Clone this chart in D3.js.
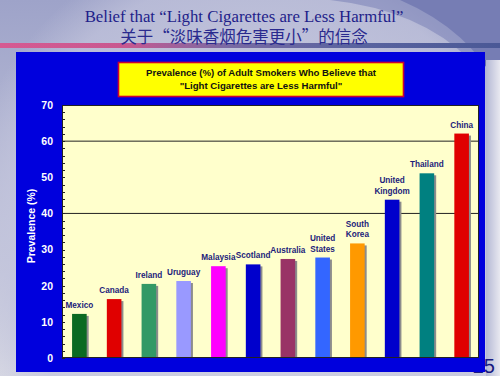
<!DOCTYPE html>
<html>
<head>
<meta charset="utf-8">
<script src="https://cdn.jsdelivr.net/npm/d3@7"></script>
<style>
html,body{margin:0;padding:0;background:#fff;}
svg{display:block;}
</style>
</head>
<body>
<script>
// ---- data ----
const countries = ["Mexico","Canada","Ireland","Uruguay","Malaysia","Scotland","Australia","United States","South Korea","United Kingdom","Thailand","China"];
const labelLines = [["Mexico"],["Canada"],["Ireland"],["Uruguay"],["Malaysia"],["Scotland"],["Australia"],["United","States"],["South","Korea"],["United","Kingdom"],["Thailand"],["China"]];
const prevalence = [12.2, 16.3, 20.5, 21.3, 25.4, 25.9, 27.4, 27.8, 31.7, 43.8, 51.1, 62.1];
const barColors = ["#0b6a22","#e00000","#339966","#9999ff","#ff00ff","#0000cc","#993366","#3366ff","#ff9900","#0000cc","#008080","#e00000"];
const yTicks = [0,10,20,30,40,50,60,70];
const gridValues = [40,60];
const titleEn = "Belief that \u201cLight Cigarettes are Less Harmful\u201d";
const titleZh = "关于\u201c淡味香烟危害更小\u201d的信念";
const boxLines = ["Prevalence (%) of Adult Smokers Who Believe that", "\"Light Cigarettes are Less Harmful\""];
const yTitle = "Prevalence (%)";
const pageNo = "25";

const W = 500, H = 376;
const svg = d3.select("body").append("svg").attr("width", W).attr("height", H);
const defs = svg.append("defs");

// background
const bg = defs.append("linearGradient").attr("id","bg").attr("x1",0).attr("y1",0).attr("x2",0).attr("y2",1);
bg.append("stop").attr("offset","0").attr("stop-color","#9ea3c9");
bg.append("stop").attr("offset","1").attr("stop-color","#d6d7e3");
svg.append("rect").attr("width",W).attr("height",H).attr("fill","url(#bg)");
const rg = defs.append("radialGradient").attr("id","glow").attr("cx","0.5").attr("cy","0.5").attr("r","0.5");
rg.append("stop").attr("offset","0").attr("stop-color","#d4d5e6").attr("stop-opacity",0.9);
rg.append("stop").attr("offset","0.85").attr("stop-color","#c2c4dc").attr("stop-opacity",0.7);
rg.append("stop").attr("offset","1").attr("stop-color","#c2c4dc").attr("stop-opacity",0);
svg.append("circle").attr("cx",260).attr("cy",230).attr("r",300).attr("fill","url(#glow)");
// darker upper-right sweep
svg.append("path").attr("d","M400,0 Q470,30 500,90 L500,0 Z").attr("fill","#6a72ad");
svg.append("path").attr("d","M330,0 Q420,10 470,60 L500,60 L500,0 Z").attr("fill","#7f86b9").attr("opacity",0.6);
// right edge light strip
const rs = defs.append("linearGradient").attr("id","rs").attr("x1",0).attr("y1",0).attr("x2",1).attr("y2",0);
rs.append("stop").attr("offset","0").attr("stop-color","#b4b8d4");
rs.append("stop").attr("offset","1").attr("stop-color","#e8e8f0");
svg.append("rect").attr("x",486).attr("y",60).attr("width",14).attr("height",316).attr("fill","url(#rs)");

// stripe
const st = defs.append("linearGradient").attr("id","stripe").attr("x1",0).attr("y1",0).attr("x2",1).attr("y2",0);
st.append("stop").attr("offset","0").attr("stop-color","#d65a92");
st.append("stop").attr("offset","0.25").attr("stop-color","#c85890");
st.append("stop").attr("offset","0.45").attr("stop-color","#7a6aa4");
st.append("stop").attr("offset","0.7").attr("stop-color","#5a64a0");
st.append("stop").attr("offset","1").attr("stop-color","#4a5896");
svg.append("rect").attr("x",0).attr("y",43).attr("width",W).attr("height",5).attr("fill","url(#stripe)");

// titles
svg.append("text").attr("x",244).attr("y",22).attr("text-anchor","middle")
  .attr("font-family","'Liberation Serif','Times New Roman',serif").attr("font-size",16.8)
  .attr("fill","#1f1f8a").text(titleEn);
svg.append("text").attr("x",244).attr("y",43).attr("text-anchor","middle")
  .attr("font-family","'Noto Sans CJK SC',sans-serif").attr("font-size",16.5)
  .attr("fill","#2a2a8e").text(titleZh);

// page number (partly hidden by the panel)
svg.append("text").attr("x",495).attr("y",373).attr("text-anchor","end")
  .attr("font-family","'Liberation Sans',Arial,sans-serif").attr("font-size",20)
  .attr("fill","#1a1a80").text(pageNo);

// blue panel
svg.append("rect").attr("x",16).attr("y",52).attr("width",469).attr("height",320).attr("fill","#0000dd");

// title box
svg.append("rect").attr("x",118.5).attr("y",62.5).attr("width",285).attr("height",34)
  .attr("fill","#ffff00").attr("stroke","#cc0033").attr("stroke-width",1.6);
svg.append("g").selectAll("text").data(boxLines).join("text")
  .attr("x",261).attr("y",(d,i)=>76+i*12.5).attr("text-anchor","middle")
  .attr("font-family","'Liberation Sans',Arial,sans-serif").attr("font-size",9.6).attr("font-weight","bold")
  .attr("fill","#111").text(d=>d);

// plot
const pl = 62, pr = 479, pt = 105, pb = 358;
const x = d3.scaleBand().domain(countries).range([pl,pr]).paddingInner(0.58).paddingOuter(0.29);
const y = d3.scaleLinear().domain([0,70]).range([pb,pt]);

svg.append("rect").attr("x",pl).attr("y",pt).attr("width",pr-pl).attr("height",pb-pt).attr("fill","#ffffcc");

// grid lines
svg.append("g").selectAll("line").data(gridValues).join("line")
  .attr("x1",pl).attr("x2",pr).attr("y1",d=>y(d)).attr("y2",d=>y(d))
  .attr("stroke","#222").attr("stroke-width",1);

// minor ticks inside
const minor = d3.range(0,71,2);
svg.append("g").selectAll("line").data(minor).join("line")
  .attr("x1",pl).attr("x2",pl+3).attr("y1",d=>Math.round(y(d))+0.5).attr("y2",d=>Math.round(y(d))+0.5)
  .attr("stroke","#222").attr("stroke-width",1);

// bars with shadows
const bars = svg.append("g");
bars.selectAll("rect.sh").data(countries).join("rect").attr("class","sh")
  .attr("x",d=>x(d)+2).attr("y",(d,i)=>y(prevalence[i])+2)
  .attr("width",x.bandwidth()).attr("height",(d,i)=>pb-y(prevalence[i])-2)
  .attr("fill","#8c8c8c");
bars.selectAll("rect.b").data(countries).join("rect").attr("class","b")
  .attr("x",d=>x(d)).attr("y",(d,i)=>y(prevalence[i]))
  .attr("width",x.bandwidth()).attr("height",(d,i)=>pb-y(prevalence[i]))
  .attr("fill",(d,i)=>barColors[i]);

// plot border
svg.append("rect").attr("x",pl+0.5).attr("y",pt+0.5).attr("width",pr-pl-1).attr("height",pb-pt-1)
  .attr("fill","none").attr("stroke","#222").attr("stroke-width",1);

// bar labels
const lab = svg.append("g").attr("font-family","'Liberation Sans',Arial,sans-serif")
  .attr("font-size",8.2).attr("font-weight","bold").attr("fill","#1c1c7a").attr("text-anchor","middle");
countries.forEach((c,i)=>{
  const lines = labelLines[i];
  const cx = x(c)+x.bandwidth()/2;
  const base = y(prevalence[i]) - 6;
  lines.forEach((ln,j)=>{
    lab.append("text").attr("x",cx).attr("y",base-(lines.length-1-j)*10.5).text(ln);
  });
});

// y axis labels
const yAxis = d3.axisLeft(y).tickValues(yTicks).tickSize(0).tickPadding(9);
const ya = svg.append("g").attr("transform",`translate(${pl},0)`).call(yAxis);
ya.select(".domain").remove();
ya.selectAll("text").attr("fill","#ffffff").attr("font-size",10.5).attr("font-weight","bold")
  .attr("font-family","'Liberation Sans',Arial,sans-serif");

// y axis title
svg.append("text").attr("transform","translate(35,226) rotate(-90)").attr("text-anchor","middle")
  .attr("font-family","'Liberation Sans',Arial,sans-serif").attr("font-size",10.5).attr("font-weight","bold")
  .attr("fill","#ffffff").text(yTitle);
</script>
</body>
</html>
